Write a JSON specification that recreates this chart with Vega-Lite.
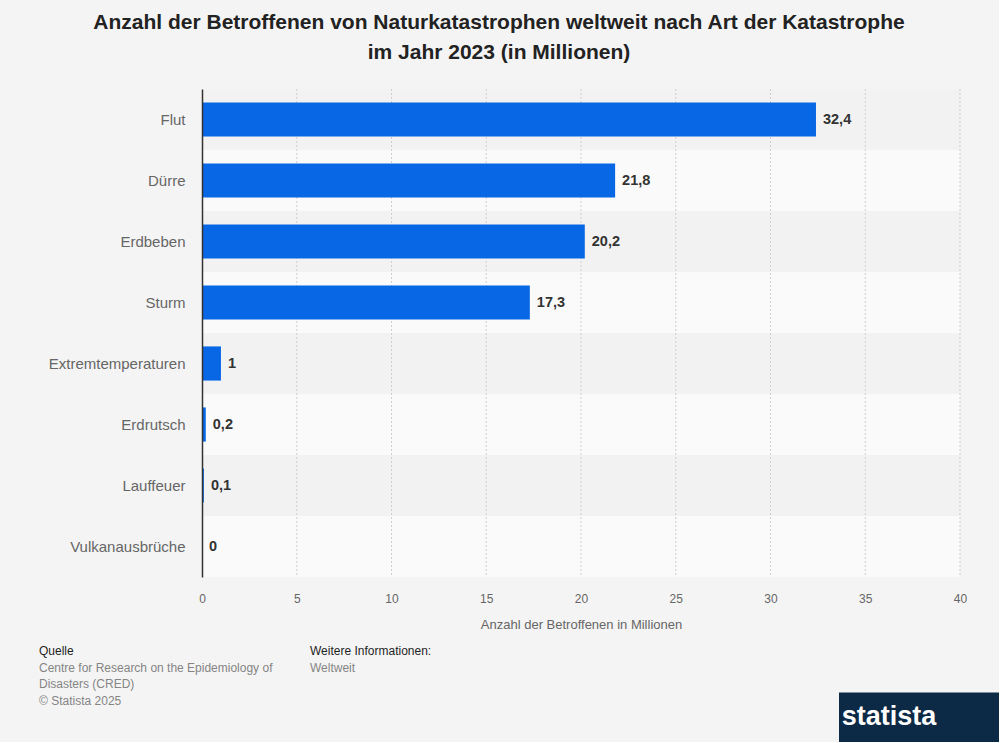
{
  "$schema": "https://vega.github.io/schema/vega-lite/v6.json",
  "background": "#f4f4f4",
  "padding": {"left": 39, "top": 11, "right": 0, "bottom": 0},
  "title": {
    "text": ["Anzahl der Betroffenen von Naturkatastrophen weltweit nach Art der Katastrophe", "im Jahr 2023 (in Millionen)"],
    "fontSize": 21,
    "font": "Liberation Sans",
    "fontWeight": "bold",
    "color": "#222222",
    "lineHeight": 30,
    "anchor": "middle",
    "offset": 26,
    "dx": -20
  },
  "config": {
    "view": {"stroke": null},
    "font": "Liberation Sans"
  },
  "resolve": {"scale": {"color": "independent"}},
  "spacing": 12,
  "vconcat": [
    {
      "spacing": 0,
      "hconcat": [
        {
          "width": 1,
          "height": 488,
          "data": {"values": []},
          "mark": "point"
        },
        {
          "width": 758,
          "height": 488,
          "layer": [
            {
              "data": {"name": "werte"},
              "mark": {"type": "bar", "tooltip": false},
              "encoding": {
                "y": {"field": "Art", "type": "nominal", "sort": null,
                  "scale": {"paddingInner": 0, "paddingOuter": 0},
                  "axis": {"title": null, "labelFontSize": 15, "labelColor": "#666666", "ticks": false, "labelPadding": 17, "domainColor": "#333333", "domainWidth": 1.5, "minExtent": 162, "zindex": 1, "labelLimit": 200}},
                "color": {"field": "Art", "type": "nominal", "legend": null,
                  "scale": {"domain": ["Flut", "Dürre", "Erdbeben", "Sturm", "Extremtemperaturen", "Erdrutsch", "Lauffeuer", "Vulkanausbrüche"],
                    "range": ["#f2f2f2", "#fafafa", "#f2f2f2", "#fafafa", "#f2f2f2", "#fafafa", "#f2f2f2", "#fafafa"]}}
              }
            },
            {
              "data": {"name": "gitter"},
              "mark": {"type": "rule", "color": "#cfcfcf", "strokeDash": [2, 2], "strokeWidth": 1},
              "encoding": {
                "x": {"field": "Linie", "type": "quantitative"}
              }
            },
            {
              "data": {"name": "werte"},
              "mark": {"type": "bar", "color": "#0867e4", "height": {"band": 0.56}},
              "encoding": {
                "y": {"field": "Art", "type": "nominal", "sort": null},
                "x": {"field": "Wert", "type": "quantitative",
                  "scale": {"domain": [0, 40], "nice": false},
                  "axis": {"title": "Anzahl der Betroffenen in Millionen", "titleFontSize": 13, "titleFontWeight": "normal", "titleColor": "#666666", "labelColor": "#666666", "labelFontSize": 12, "labelFlush": false, "ticks": false, "domain": false, "grid": false, "labelPadding": 16, "titlePadding": 14, "values": [0, 5, 10, 15, 20, 25, 30, 35, 40]}}
              }
            },
            {
              "data": {"name": "werte"},
              "mark": {"type": "text", "align": "left", "baseline": "middle", "dx": 7, "fontSize": 14.5, "fontWeight": "bold", "color": "#333333"},
              "encoding": {
                "y": {"field": "Art", "type": "nominal", "sort": null},
                "x": {"field": "Wert", "type": "quantitative"},
                "text": {"field": "Beschriftung", "type": "nominal"}
              }
            }
          ]
        }
      ]
    },
    {
      "spacing": 258,
      "hconcat": [
        {
          "width": 542,
          "height": 99,
          "data": {"name": "fuss"},
          "mark": {"type": "text", "align": "left", "baseline": "middle", "fontSize": 12},
          "encoding": {
            "x": {"field": "Spalte", "type": "nominal", "bandPosition": 0,
              "scale": {"type": "band", "domain": ["Quelle", "Weitere"], "paddingInner": 0, "paddingOuter": 0}, "axis": null},
            "y": {"field": "Zeile", "type": "ordinal",
              "scale": {"type": "band", "domain": [0, 1, 2, 3, 4, 5], "paddingInner": 0, "paddingOuter": 0}, "axis": null},
            "text": {"field": "Text", "type": "nominal"},
            "color": {"field": "Rolle", "type": "nominal", "legend": null,
              "scale": {"domain": ["Kopf", "Inhalt"], "range": ["#1f1f1f", "#858585"]}}
          }
        },
        {
          "width": 160,
          "height": 99,
          "data": {"name": "marke"},
          "encoding": {
            "y": {"field": "Teil", "type": "nominal",
              "scale": {"domain": ["oben", "unten"], "paddingInner": 0, "paddingOuter": 0}, "axis": null}
          },
          "layer": [
            {"mark": {"type": "bar", "color": "#0c2a46"}},
            {"mark": {"type": "text", "color": "#ffffff", "fontSize": 27, "fontWeight": "bold", "dx": -30, "baseline": "middle"},
             "encoding": {"text": {"field": "Name", "type": "nominal"}}}
          ]
        }
      ]
    }
  ],
  "datasets": {
    "werte": [
      {"Art": "Flut", "Wert": 32.4, "Beschriftung": "32,4"},
      {"Art": "Dürre", "Wert": 21.8, "Beschriftung": "21,8"},
      {"Art": "Erdbeben", "Wert": 20.2, "Beschriftung": "20,2"},
      {"Art": "Sturm", "Wert": 17.3, "Beschriftung": "17,3"},
      {"Art": "Extremtemperaturen", "Wert": 1, "Beschriftung": "1"},
      {"Art": "Erdrutsch", "Wert": 0.2, "Beschriftung": "0,2"},
      {"Art": "Lauffeuer", "Wert": 0.1, "Beschriftung": "0,1"},
      {"Art": "Vulkanausbrüche", "Wert": 0, "Beschriftung": "0"}
    ],
    "gitter": [
      {"Linie": 5}, {"Linie": 10}, {"Linie": 15}, {"Linie": 20},
      {"Linie": 25}, {"Linie": 30}, {"Linie": 35}, {"Linie": 40}
    ],
    "fuss": [
      {"Spalte": "Quelle", "Zeile": 0, "Text": "Quelle", "Rolle": "Kopf"},
      {"Spalte": "Quelle", "Zeile": 1, "Text": "Centre for Research on the Epidemiology of", "Rolle": "Inhalt"},
      {"Spalte": "Quelle", "Zeile": 2, "Text": "Disasters (CRED)", "Rolle": "Inhalt"},
      {"Spalte": "Quelle", "Zeile": 3, "Text": "© Statista 2025", "Rolle": "Inhalt"},
      {"Spalte": "Weitere", "Zeile": 0, "Text": "Weitere Informationen:", "Rolle": "Kopf"},
      {"Spalte": "Weitere", "Zeile": 1, "Text": "Weltweit", "Rolle": "Inhalt"}
    ],
    "marke": [
      {"Teil": "unten", "Name": "statista"}
    ]
  }
}
